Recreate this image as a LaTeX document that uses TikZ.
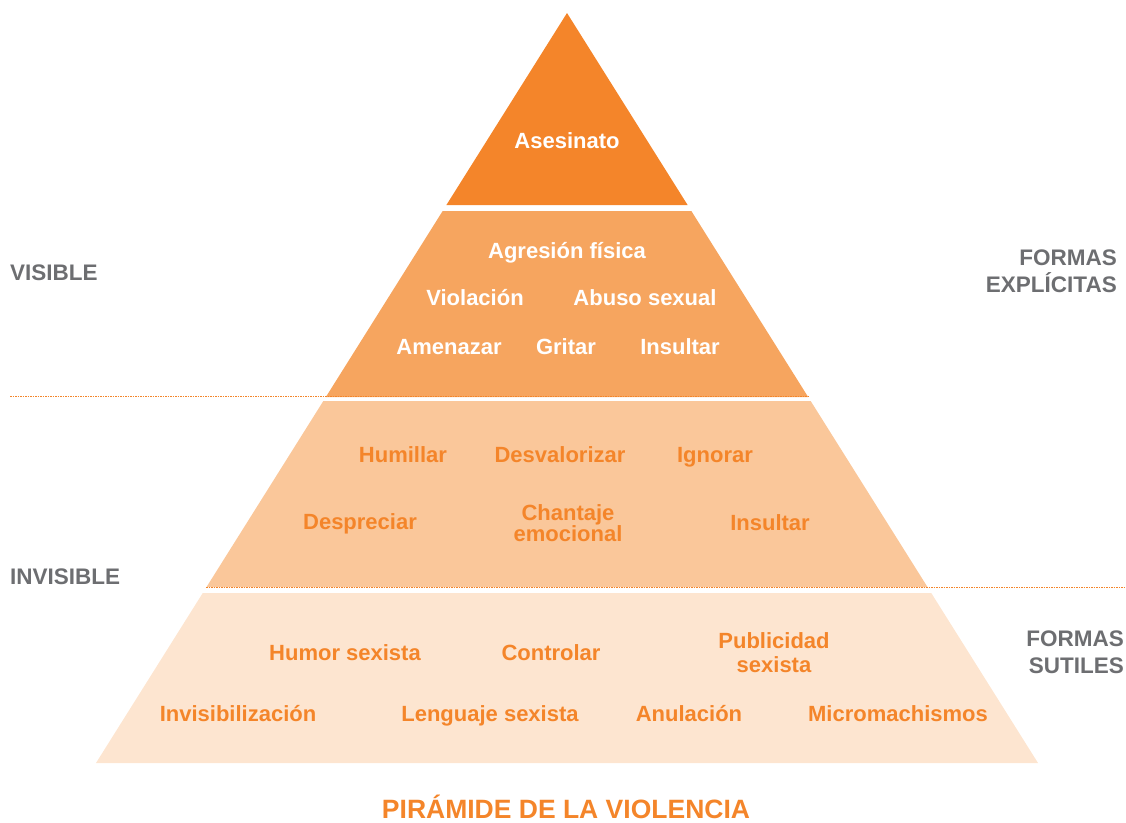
\documentclass[tikz,border=0pt]{standalone}
\usepackage{fontspec}
\setmainfont{Liberation Sans}
\usepackage{xcolor}
\usepackage{tikz}
\usetikzlibrary{positioning,calc}
\definecolor{BandTop}{HTML}{F4852A}
\definecolor{BandTwo}{HTML}{F6A55F}
\definecolor{BandThree}{HTML}{FAC79A}
\definecolor{BandFour}{HTML}{FDE5D0}
\definecolor{AccentOrange}{HTML}{F4852A}
\definecolor{LabelGray}{HTML}{6D6E71}

\tikzset{
  whitelabel/.style={text=white, inner sep=0pt, align=center,
    text height=15.6pt, text depth=0pt,
    font=\bfseries\fontsize{22}{22}\selectfont},
  orangelabel/.style={text=AccentOrange, inner sep=0pt, align=center,
    text height=15.6pt, text depth=0pt,
    font=\bfseries\fontsize{22}{21}\selectfont},
  twolines/.style={text height=, text depth=,
    font=\bfseries\fontsize{22}{#1}\selectfont},
  sidelabel/.style={text=LabelGray, inner sep=0pt,
    text height=16pt, text depth=0pt,
    font=\bfseries\fontsize{22.5}{27}\selectfont},
  levelline/.style={AccentOrange, line width=1.5pt, dash pattern=on 1.5pt off 1pt}
}

\begin{document}
\begin{tikzpicture}[x=1pt,y=-1pt]
  \useasboundingbox (0,0) rectangle (1126,822);

  % pyramid
  \fill[BandTop] (567,13) -- (687.6,205) -- (446.4,205) -- cycle;
  \foreach \ytop/\ybot/\col in {211/397/BandTwo, 401/587/BandThree, 593/763/BandFour}{
    \fill[\col] ({567-0.628*(\ytop-13)},\ytop) -- ({567+0.628*(\ytop-13)},\ytop)
      -- ({567+0.628*(\ybot-13)},\ybot) -- ({567-0.628*(\ybot-13)},\ybot) -- cycle;
  }

  % level lines
  \coordinate (visL) at (10,396.5);
  \coordinate (visR) at (808,396.5);
  \coordinate (invL) at (206,587.5);
  \coordinate (invR) at (1124,587.5);
  \draw[levelline] (visL) -- (visR);
  \draw[levelline] (invL) -- (invR);

  % top
  \node[whitelabel] (asesinato) at (567,141) {Asesinato};

  % band two
  \node[whitelabel] (agresion) at (567,251) {Agresión física};
  \node[whitelabel] (violacion) at (475,298) {Violación};
  \node[whitelabel] (abuso) at (645,298) {Abuso sexual};
  \node[whitelabel] (amenazar) at (449,347) {Amenazar};
  \node[whitelabel] (gritar) at (566,347) {Gritar};
  \node[whitelabel] (insultarA) at (680,347) {Insultar};

  % band three
  \node[orangelabel] (humillar) at (403,455) {Humillar};
  \node[orangelabel] (desvalorizar) at (560,455) {Desvalorizar};
  \node[orangelabel] (ignorar) at (715,455) {Ignorar};
  \node[orangelabel] (despreciar) at (360,522) {Despreciar};
  \node[orangelabel, twolines=21] (chantaje) at (568,523) {Chantaje\\emocional};
  \node[orangelabel] (insultarB) at (770,523) {Insultar};

  % band four
  \node[orangelabel] (humor) at (345,653) {Humor sexista};
  \node[orangelabel] (controlar) at (551,653) {Controlar};
  \node[orangelabel, twolines=24] (publicidad) at (774,653) {Publicidad\\sexista};
  \node[orangelabel] (invisib) at (238,714) {Invisibilización};
  \node[orangelabel] (lenguaje) at (490,714) {Lenguaje sexista};
  \node[orangelabel] (anulacion) at (689,714) {Anulación};
  \node[orangelabel] (micro) at (898,714) {Micromachismos};

  % side labels
  \node[sidelabel, anchor=west] (visible) at (10,272) {VISIBLE};
  \node[sidelabel, anchor=west] (invisible) at (10,576) {INVISIBLE};
  \node[sidelabel, anchor=east, align=right, text height=, text depth=] (explicitas) at (1117,271) {FORMAS\\EXPLÍCITAS};
  \node[sidelabel, anchor=east, align=right, text height=, text depth=] (sutiles) at (1124,652) {FORMAS\\SUTILES};

  % title
  \node[text=AccentOrange, inner sep=0pt, text height=19pt, text depth=0pt,
    font=\bfseries\fontsize{26.5}{28}\selectfont] (title) at (566,809) {PIRÁMIDE DE LA VIOLENCIA};
\end{tikzpicture}
\end{document}
